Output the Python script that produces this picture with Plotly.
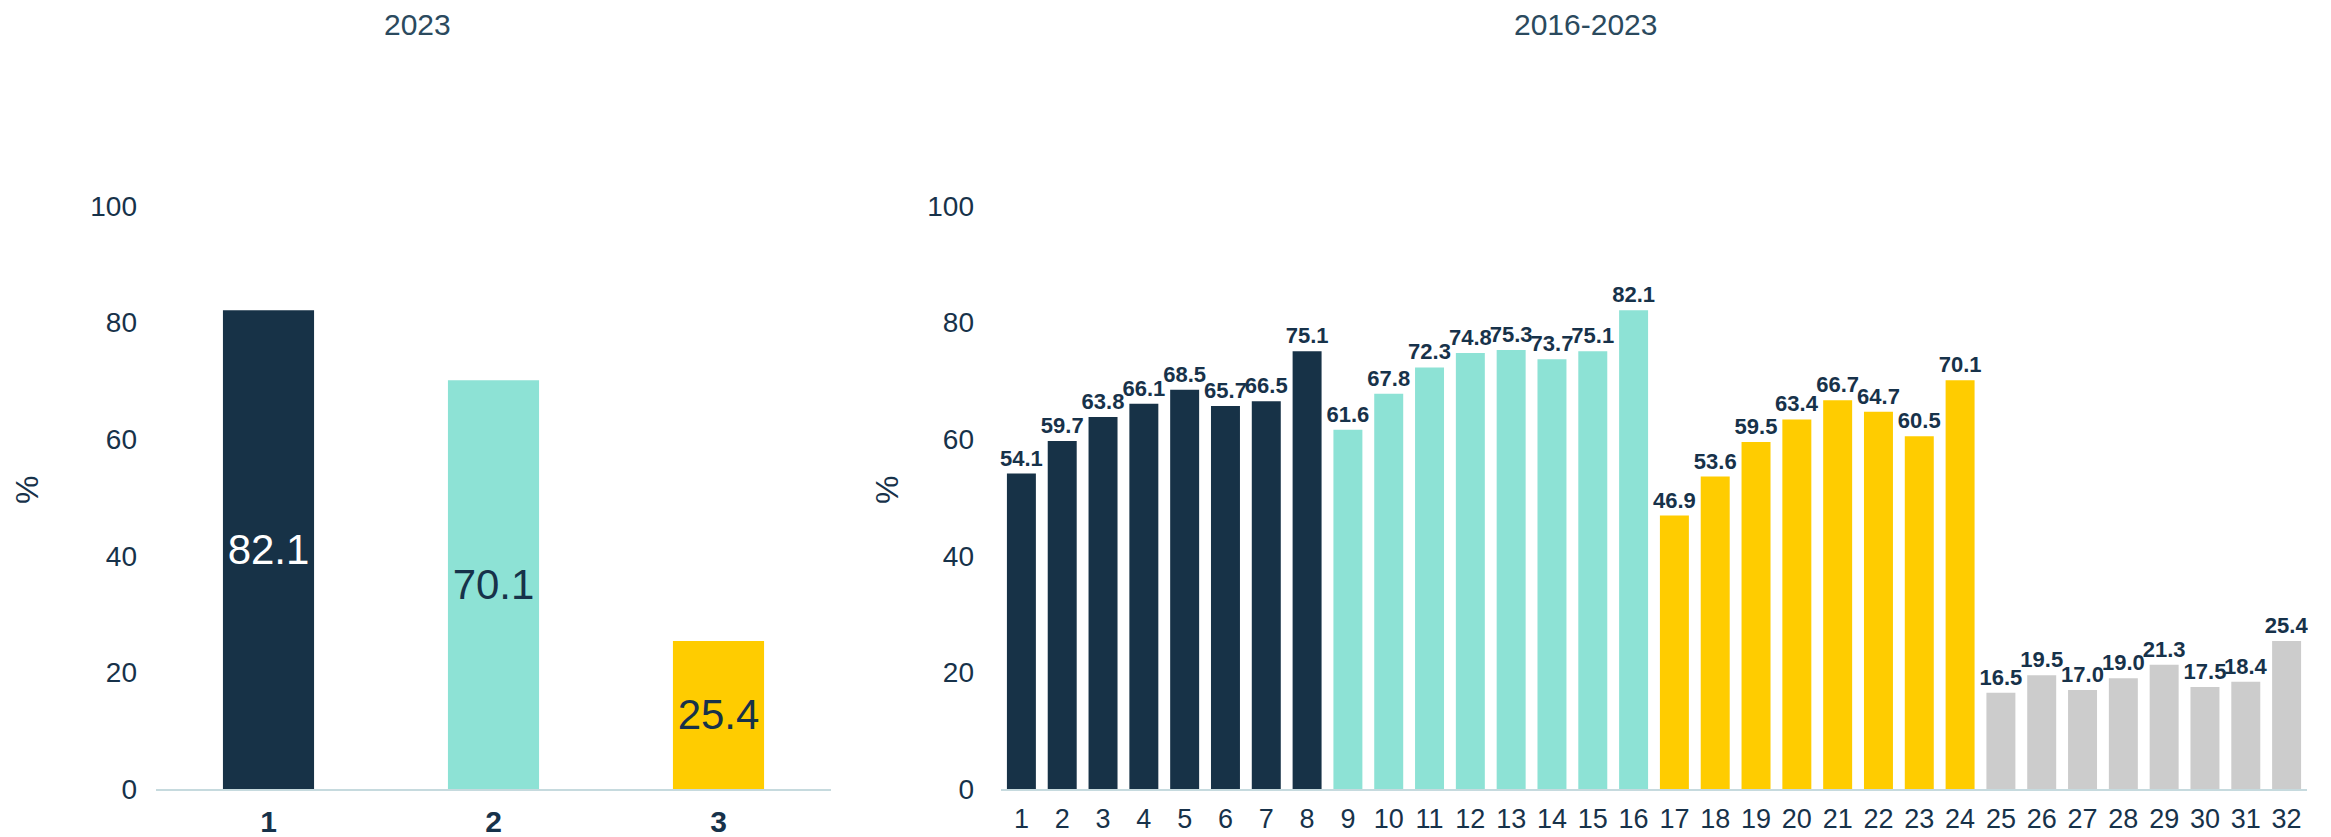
import plotly.graph_objects as go

# ---- data ----
cats_2023 = ["1", "2", "3"]
vals_2023 = [82.1, 70.1, 25.4]

cats_trend = ["1", "2", "3", "4", "5", "6", "7", "8",
              "9", "10", "11", "12", "13", "14", "15", "16",
              "17", "18", "19", "20", "21", "22", "23", "24",
              "25", "26", "27", "28", "29", "30", "31", "32"]
vals_trend = [54.1, 59.7, 63.8, 66.1, 68.5, 65.7, 66.5, 75.1,
              61.6, 67.8, 72.3, 74.8, 75.3, 73.7, 75.1, 82.1,
              46.9, 53.6, 59.5, 63.4, 66.7, 64.7, 60.5, 70.1,
              16.5, 19.5, 17.0, 19.0, 21.3, 17.5, 18.4, 25.4]
group_trend = [0] * 8 + [1] * 8 + [2] * 8 + [3] * 8

title_left = "2023"
title_right = "2016-2023"
y_ticks = [0, 20, 40, 60, 80, 100]

# ---- styles ----
NAVY = "#173247"
TEAL = "#8de2d5"
YELLOW = "#ffcc00"
GREY = "#cccccc"
DARK = "#17324a"
AXIS = "#c6dade"
FONT = "Liberation Sans, Arial, Helvetica, sans-serif"

group_colors = [NAVY, TEAL, YELLOW, GREY]
colors_2023 = [NAVY, TEAL, YELLOW]
text_colors_2023 = ["#ffffff", DARK, DARK]

# page has an 8px body margin; figure placed inside it
OFF = 8
W, H = 2300, 829


def px(x):
    return (x - OFF) / W


def py(y):
    return 1 - (y - OFF) / H


fig = go.Figure()

fig.add_trace(go.Bar(
    x=cats_2023, y=vals_2023,
    marker=dict(color=colors_2023, line=dict(width=0)),
    width=0.405,
    text=[f"{v:.1f}" for v in vals_2023],
    textposition="inside", insidetextanchor="middle", textangle=0,
    textfont=dict(family=FONT, size=42, color=text_colors_2023),
    constraintext="none",
    xaxis="x", yaxis="y", showlegend=False, hoverinfo="x+y",
))

fig.add_trace(go.Bar(
    x=cats_trend, y=vals_trend,
    marker=dict(color=[group_colors[g] for g in group_trend], line=dict(width=0)),
    width=0.71,
    text=[f"{v:.1f}" for v in vals_trend],
    textposition="outside", textangle=0,
    textfont=dict(family=FONT, size=22, color=DARK, weight="bold"),
    constraintext="none", cliponaxis=False,
    xaxis="x2", yaxis="y2", showlegend=False, hoverinfo="x+y",
))

y_dom = [py(789), py(206)]

fig.update_layout(
    width=W, height=H,
    margin=dict(l=0, r=0, t=0, b=0, autoexpand=False),
    paper_bgcolor="white", plot_bgcolor="white",
    font=dict(family=FONT, color=DARK),
    xaxis=dict(domain=[px(156), px(831)], showline=True, linecolor=AXIS, linewidth=2,
               showgrid=False, zeroline=False, ticks="", automargin=False,
               tickfont=dict(size=30, color=DARK, weight="bold"), ticklabelstandoff=5,
               fixedrange=True),
    yaxis=dict(domain=y_dom, range=[0, 100], tickvals=y_ticks, showgrid=False,
               zeroline=False, showline=False, ticks="", automargin=False,
               tickfont=dict(size=28, color=DARK), ticklabelstandoff=18),
    xaxis2=dict(domain=[px(1001), px(2307)], anchor="y2", showline=True, linecolor=AXIS,
                linewidth=2, showgrid=False, zeroline=False, ticks="", automargin=False,
                tickfont=dict(size=27, color=DARK), ticklabelstandoff=5),
    yaxis2=dict(domain=y_dom, range=[0, 100], anchor="x2", tickvals=y_ticks, showgrid=False,
                zeroline=False, showline=False, ticks="", automargin=False,
                tickfont=dict(size=28, color=DARK), ticklabelstandoff=26),
    annotations=[
        dict(text=title_left, x=px(417), y=py(25), xref="paper", yref="paper",
             showarrow=False, xanchor="center", yanchor="middle",
             font=dict(size=30, color="#2b4a5e", family=FONT)),
        dict(text=title_right, x=px(1585), y=py(25), xref="paper", yref="paper",
             showarrow=False, xanchor="center", yanchor="middle",
             font=dict(size=30, color="#2b4a5e", family=FONT)),
        dict(text="%", x=px(27), y=py(490), xref="paper", yref="paper",
             showarrow=False, xanchor="center", yanchor="middle", textangle=-90,
             font=dict(size=32, color=DARK, family=FONT)),
        dict(text="%", x=px(887), y=py(490), xref="paper", yref="paper",
             showarrow=False, xanchor="center", yanchor="middle", textangle=-90,
             font=dict(size=32, color=DARK, family=FONT)),
    ],
)

fig.write_html("out.html")
